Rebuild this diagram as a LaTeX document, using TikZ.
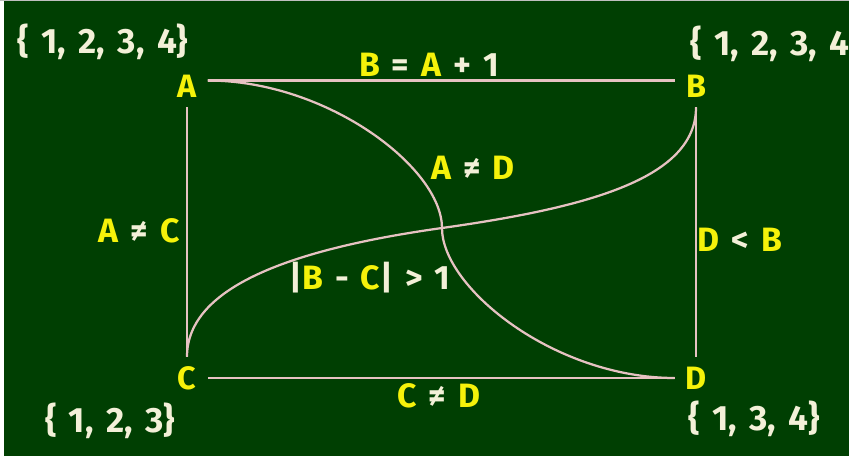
\documentclass[tikz,border=0pt]{standalone}
\usepackage{fontspec}
\setmainfont{Fira Sans}[WordSpace=1.5]
\usepackage{tikz}
\usetikzlibrary{calc}
\definecolor{tableau}{HTML}{003F02}
\definecolor{jaune}{HTML}{F5F20A}
\definecolor{creme}{HTML}{F3F0D8}
\definecolor{craie}{HTML}{E6C2C2}
\newcommand{\jn}[1]{\textcolor{jaune}{#1}}
\tikzset{
  sommet/.style={circle, minimum size=1.05cm, inner sep=0pt, text=jaune,
                 font=\bfseries\fontsize{23}{23}\selectfont},
  etiq/.style={inner sep=0pt, text=creme, font=\bfseries\fontsize{24}{24}\selectfont},
  ensemble/.style={etiq, font=\bfseries\fontsize{25}{25}\selectfont},
  trait/.style={draw=craie, line width=1.6pt},
}

\begin{document}
\begin{tikzpicture}[x=0.025cm, y=-0.025cm]
  \useasboundingbox (0,0) rectangle (849,456);
  \fill[gray!50] (0,0) rectangle (849,456);
  \fill[white] (0,1) rectangle (4,456);
  \fill[tableau] (4,1) rectangle (849,456);

  \node[sommet] (A) at (187,86) {A};
  \node[sommet] (B) at (696,86) {B};
  \node[sommet] (C) at (187,378) {C};
  \node[sommet] (D) at (696,378) {D};
  \coordinate (X) at (442,228);

  \draw[trait] (A.15) -- (B.165);
  \draw[trait] (A) -- (C);
  \draw[trait] (C) -- (D);
  \draw[trait] (B) -- (D);
  \draw[trait] (A.15) .. controls +(120,0) and +(0,-60) .. (X)
                      .. controls +(0,60) and +(-120,0) .. (D.west);
  \draw[trait] (C.north) .. controls +(0,-70) and +(-150,21) .. (X)
                         .. controls +(150,-21) and +(0,70) .. (B.south);

  \node[etiq] (ab) at (429,65) {\jn{B} = \jn{A} + 1};
  \node[etiq] (ad) at (473,168) {\jn{A} ≠ \jn{D}};
  \node[etiq] (ac) at (139,231) {\jn{A} ≠ \jn{C}};
  \node[etiq] (bc) at (370,278) {|\jn{B} - \jn{C}| > 1};
  \node[etiq] (cd) at (439,396) {\jn{C} ≠ \jn{D}};
  \node[etiq] (bd) at (740,240) {\jn{D} < \jn{B}};

  \node[ensemble] (da) at (103,42) {\{ 1, 2, 3, 4\}};
  \node[ensemble, anchor=west] (db) at (690,44) {\{ 1, 2, 3, 4\}};
  \node[ensemble] (dc) at (110,421) {\{ 1, 2, 3\}};
  \node[ensemble] (dd) at (754,419) {\{ 1, 3, 4\}};
\end{tikzpicture}
\end{document}
